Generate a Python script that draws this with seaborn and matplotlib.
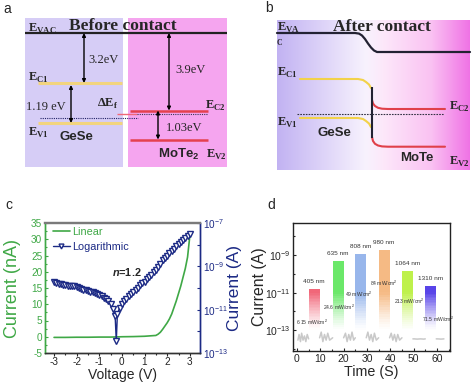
import numpy as np
import pandas as pd
import matplotlib
matplotlib.use("Agg")
import matplotlib.pyplot as plt
import seaborn as sns
from matplotlib.colors import LinearSegmentedColormap
from matplotlib.patches import Rectangle
from matplotlib.lines import Line2D
from matplotlib.ticker import FixedLocator, MultipleLocator, NullFormatter, LogFormatterSciNotation

# ---------------- data ----------------
# panel a: schematic level heights (pixel-like diagram units, top = 0)
levels_a_gese = [83, 123]          # E_C1, E_V1
fermi_a_gese = 117.5
levels_a_mote = [110.5, 139.5]     # E_C2, E_V2
fermi_a_mote = 114
vac_a = 33
gaps_a = ["3.2eV", "1.19 eV", "3.9eV", "1.03eV"]

# panel b: band-bending curves (diagram units)
vac_b_x = [277, 355, 359, 362, 365, 368, 371, 374, 377, 470]
vac_b_y = [33, 33, 33.6, 35.5, 39, 43.5, 47.5, 50.5, 52, 52]
ec1_b_x = [300, 358, 363, 366, 369, 371]
ec1_b_y = [79, 79, 80, 82, 84.5, 88]
ev1_b_x = [300, 358, 363, 366, 369, 371]
ev1_b_y = [118, 118, 119, 121, 123.5, 127]
ec2_b_x = [372, 373, 375, 378, 382, 388, 445]
ec2_b_y = [100, 103.5, 106, 107.8, 108.7, 109, 109]
ev2_b_x = [372, 373, 375, 378, 382, 388, 445]
ev2_b_y = [137, 141, 143.8, 145.5, 146.4, 146.7, 146.7]

# panel c: I-V
V_lin = [-3.0, -2.5, -2.0, -1.5, -1.0, -0.5, 0.0, 0.5, 1.0, 1.5, 1.6, 1.7, 1.8, 1.9,
         2.0, 2.1, 2.2, 2.3, 2.4, 2.5, 2.6, 2.7, 2.8, 2.9, 3.0]
I_lin = [-0.2, -0.2, -0.15, -0.15, -0.1, -0.1, 0.0, 0.05, 0.15, 0.4, 0.8, 1.4, 2.3, 3.3,
         4.3, 5.5, 7.0, 9.0, 11.0, 13.3, 15.6, 18.3, 21.0, 24.5, 31.0]
V_log = [-3.0, -2.9, -2.8, -2.7, -2.6, -2.5, -2.4, -2.3, -2.2, -2.1, -2.0, -1.9, -1.8,
         -1.7, -1.6, -1.5, -1.4, -1.3, -1.2, -1.1, -1.0, -0.9, -0.8, -0.7, -0.6, -0.5,
         -0.4, -0.3, -0.25, -0.2, -0.1, 0.0, 0.1, 0.2, 0.3, 0.4, 0.5, 0.6, 0.7, 0.8,
         0.9, 1.0, 1.1, 1.2, 1.3, 1.4, 1.5, 1.6, 1.7, 1.8, 1.9, 2.0, 2.1, 2.2, 2.3,
         2.4, 2.5, 2.6, 2.7, 2.8, 2.9, 3.0]
logI = [-9.72, -9.76, -9.80, -9.83, -9.86, -9.88, -9.90, -9.93, -9.90, -9.93, -9.97,
        -10.00, -10.03, -10.07, -10.10, -10.14, -10.17, -10.20, -10.24, -10.28, -10.33,
        -10.38, -10.44, -10.52, -10.62, -10.75, -10.95, -11.30, -12.45, -11.20, -10.90,
        -10.75, -10.62, -10.50, -10.38, -10.27, -10.17, -10.08, -9.98, -9.88, -9.79,
        -9.70, -9.60, -9.50, -9.38, -9.28, -9.17, -9.03, -8.87, -8.73, -8.60, -8.50,
        -8.40, -8.28, -8.18, -8.08, -7.98, -7.88, -7.78, -7.68, -7.58, -7.52]

# panel d: photoresponse
wavelengths = ["405 nm", "635 nm", "808 nm", "980 nm", "1064 nm", "1310 nm"]
powers = ["6.15 mW/cm$^{2}$", "24.6 mW/cm$^{2}$", "49 mW/cm$^{2}$", "84 mW/cm$^{2}$",
          "213 mW/cm$^{2}$", "71.5 mW/cm$^{2}$"]
on_start = [5.0, 15.3, 25.0, 35.0, 45.0, 55.0]
on_end = [9.7, 20.0, 29.7, 39.7, 49.7, 59.7]
peak_I = [1.6e-11, 4.8e-10, 1.2e-9, 1.8e-9, 1.5e-10, 2.3e-11]
power_t = [6.4, 17.8, 26.4, 37.4, 48.1, 60.3]
power_I = [2.8e-13, 1.8e-12, 8.1e-12, 3.2e-11, 3.5e-12, 4.0e-13]
dark_seg = [0, 0, 0, 0, 0, 0, 0, 0, 0,
            1, 1, 1, 1, 1, 1, 1, 1,
            2, 2, 2, 2, 2, 2, 2, 2,
            3, 3, 3, 3, 3, 3, 3, 3,
            4, 4, 4, 4, 4, 4, 4, 4,
            5, 5, 5, 5, 5, 5,
            6, 6, 6, 6]
dark_t = [0.4, 0.9, 1.5, 2.0, 2.6, 3.2, 3.8, 4.4, 5.0,
          9.7, 10.4, 11.1, 11.8, 12.5, 13.2, 14.0, 15.3,
          20.0, 20.8, 21.5, 22.2, 22.9, 23.6, 24.3, 25.0,
          29.7, 30.4, 31.1, 31.8, 32.5, 33.2, 34.0, 35.0,
          39.7, 40.4, 41.1, 41.8, 42.5, 43.2, 44.0, 45.0,
          49.7, 50.3, 51.5, 53.0, 54.3, 55.0,
          59.7, 60.3, 61.8, 63.0]
dark_I = [3e-14, 6e-14, 2.5e-14, 7e-14, 3e-14, 5e-14, 2.5e-14, 6e-14, 3.5e-14,
          4e-14, 8e-14, 2.5e-14, 6e-14, 3e-14, 7e-14, 3e-14, 4e-14,
          4e-14, 7e-14, 2.5e-14, 6e-14, 3e-14, 8e-14, 3e-14, 4e-14,
          4e-14, 8e-14, 3e-14, 6e-14, 2.5e-14, 7e-14, 3e-14, 4e-14,
          4e-14, 7e-14, 3e-14, 6e-14, 2.5e-14, 6e-14, 3e-14, 4e-14,
          3.5e-14, 3.5e-14, 3.4e-14, 3.5e-14, 3.4e-14, 3.5e-14,
          3.5e-14, 3.5e-14, 3.4e-14, 3.5e-14]

# ---------------- style ----------------
W, H = 474, 383
sns.set_style("ticks")
plt.rcParams["font.family"] = ["Liberation Sans", "DejaVu Sans"]
plt.rcParams["mathtext.fontset"] = "custom"
plt.rcParams["mathtext.rm"] = "Liberation Serif:bold"
plt.rcParams["mathtext.sf"] = "Liberation Sans:bold"
plt.rcParams["mathtext.it"] = "Liberation Sans:italic:bold"

GREEN = "#3fa846"
NAVY = "#1c2a85"
SERIF = "Liberation Serif"

fig = plt.figure(figsize=(W / 100, H / 100), dpi=100)


def add_ax(x0, y0, x1, y1):
    return fig.add_axes([x0 / W, 1 - y1 / H, (x1 - x0) / W, (y1 - y0) / H])


def elabel(ax, x, y, sub, size=9):
    ax.text(x, y, "E$_{\\mathrm{" + sub + "}}$", family=SERIF, weight="bold",
            fontsize=size, ha="left", va="center")


# ---------------- panel a ----------------
axa = add_ax(0, 0, 237, 180)
axa.set_xlim(0, 237)
axa.set_ylim(180, 0)
axa.axis("off")
axa.add_patch(Rectangle((25, 18), 98, 149, color="#d6cdf6", lw=0))
axa.add_patch(Rectangle((128, 18), 99, 149, color="#f5a5ef", lw=0))
axa.hlines(vac_a, 25, 227, color="#222222", lw=1.6)
axa.hlines(levels_a_gese, 38, 122, color="#f2d47e", lw=2.2)
axa.hlines(fermi_a_gese, 40, 138, color="#222266", lw=0.8, ls=(0, (1, 1)))
axa.hlines(levels_a_mote, 130, 208, color="#e5404f", lw=1.8)
axa.hlines(fermi_a_mote, 117, 137, color="#f06878", lw=1.0)
axa.hlines(fermi_a_mote, 137, 208, color="#333355", lw=0.8, ls=(0, (1, 1)))
arrow = dict(arrowstyle="<|-|>", lw=1.0, color="black", mutation_scale=5,
             shrinkA=0, shrinkB=0)
axa.annotate("", xy=(84, vac_a), xytext=(84, levels_a_gese[0]), arrowprops=arrow)
axa.annotate("", xy=(71, levels_a_gese[0] + 2), xytext=(71, levels_a_gese[1]), arrowprops=arrow)
axa.annotate("", xy=(169, vac_a), xytext=(169, levels_a_mote[0]), arrowprops=arrow)
axa.annotate("", xy=(158, levels_a_mote[0]), xytext=(158, levels_a_mote[1]), arrowprops=arrow)
axa.text(3, 9, "a", fontsize=10, ha="left", va="center")
elabel(axa, 28, 29, "VAC")
axa.text(123, 26, "Before contact", family=SERIF, weight="bold", fontsize=12.5,
         ha="center", va="center")
axa.text(88, 60, gaps_a[0], family=SERIF, fontsize=9, ha="left", va="center")
elabel(axa, 28, 78, "C1")
axa.text(26, 107, gaps_a[1], family=SERIF, fontsize=9, ha="left", va="center")
axa.text(97, 104, "ΔE$_{\\mathrm{f}}$", family=SERIF, weight="bold", fontsize=9,
         ha="left", va="center")
elabel(axa, 28, 133, "V1")
axa.text(60, 137, "GeSe", weight="bold", fontsize=9.5, ha="left", va="center")
axa.text(175, 70, gaps_a[2], family=SERIF, fontsize=9, ha="left", va="center")
elabel(axa, 205, 106, "C2")
axa.text(166, 128, gaps_a[3], family=SERIF, fontsize=9, ha="left", va="center")
axa.text(158, 154, "MoTe$_{\\mathsf{2}}$", weight="bold", fontsize=9.5, ha="left", va="center")
elabel(axa, 206, 155, "V2")

# ---------------- panel b ----------------
axb = add_ax(237, 0, 474, 180)
axb.axis("off")
grad = LinearSegmentedColormap.from_list(
    "bg", [(0.0, (0.76, 0.70, 0.95)), (0.46, (0.97, 0.95, 0.995)),
           (0.55, (0.99, 0.91, 0.98)), (0.8, (0.98, 0.76, 0.95)),
           (1.0, (0.94, 0.45, 0.90))])
axb.imshow(np.linspace(0, 1, 256)[None, :], cmap=grad, aspect="auto",
           extent=(277, 470, 170, 20), zorder=0)
axb.set_xlim(237, 474)
axb.set_ylim(180, 0)
axb.plot(vac_b_x, vac_b_y, color="#222233", lw=1.6)
axb.plot(ec1_b_x, ec1_b_y, color="#f2d24a", lw=1.5)
axb.plot(ev1_b_x, ev1_b_y, color="#f2d24a", lw=1.5)
axb.plot(ec2_b_x, ec2_b_y, color="#e0404a", lw=1.5)
axb.plot(ev2_b_x, ev2_b_y, color="#e0404a", lw=1.5)
axb.vlines(371.5, 87, 138, color="#222233", lw=1.5)
axb.hlines(114, 297, 444, color="#333344", lw=0.8, ls=(0, (1.5, 1)))
axb.text(265, 8, "b", fontsize=10, ha="left", va="center")
elabel(axb, 277, 28, "VA")
axb.text(277, 43, "C", family=SERIF, weight="bold", fontsize=5.5, ha="left", va="center")
axb.text(382, 27, "After contact", family=SERIF, weight="bold", fontsize=12.5,
         ha="center", va="center")
elabel(axb, 277, 73, "C1")
elabel(axb, 277, 123, "V1")
axb.text(317, 133, "GeSe", weight="bold", fontsize=9.5, ha="left", va="center")
axb.text(400, 158, "MoTe", weight="bold", fontsize=9.5, ha="left", va="center")
elabel(axb, 449, 107, "C2")
elabel(axb, 449, 162, "V2")

# ---------------- panel c ----------------
CX0, CY0, CX1, CY1 = 45, 223, 200, 353
axc = add_ax(CX0, CY0, CX1, CY1)
sns.lineplot(x=V_lin, y=I_lin, ax=axc, color=GREEN, lw=1.2)
axc.set_xlim(-3.4, 3.45)
axc.set_ylim(-5, 35)
axc.xaxis.set_minor_locator(MultipleLocator(0.5))
axc.yaxis.set_minor_locator(MultipleLocator(2.5))
axc.set_xticks([-3, -2, -1, 0, 1, 2, 3])
axc.set_xticklabels(["-3", "-2", "-1", "0", "1", "2", "3"])
axc.set_yticks([-5, 0, 5, 10, 15, 20, 25, 30, 35])
axc.set_yticklabels(["-5", "0", "5", "10", "15", "20", "25", "30", "35"])
axc.tick_params(axis="x", which="both", direction="out", labelsize=7.2, pad=0.8,
                length=2.0, width=0.8, colors="#222222")
axc.tick_params(axis="x", which="minor", length=1.3)
axc.tick_params(axis="y", which="both", direction="in", labelsize=7.2, pad=2,
                length=2.5, width=0.8, colors=GREEN)
axc.tick_params(axis="y", which="minor", length=1.5)
axc.set_xlabel("Voltage (V)", fontsize=10, va="top")
axc.xaxis.set_label_coords(0.5, (CY1 - 368) / (CY1 - CY0))
axc.set_ylabel("Current (nA)", fontsize=13, color=GREEN)
axc.yaxis.set_label_coords((21 - CX0) / (CX1 - CX0), 0.5)
axc2 = axc.twinx()
sns.lineplot(x=V_log, y=[10 ** v for v in logI], ax=axc2, color=NAVY, lw=1.0,
             marker="v", markerfacecolor="white", markeredgecolor=NAVY,
             markersize=4.2, markeredgewidth=1.0)
axc2.set_yscale("log")
axc2.set_ylim(1e-13, 1e-7)
axc2.yaxis.set_major_locator(FixedLocator([1e-13, 1e-11, 1e-9, 1e-7]))
axc2.yaxis.set_major_formatter(LogFormatterSciNotation())
axc2.yaxis.set_minor_locator(FixedLocator([1e-12, 1e-10, 1e-8]))
axc2.yaxis.set_minor_formatter(NullFormatter())
axc2.tick_params(axis="y", which="both", direction="in", labelsize=7.2, pad=2,
                 length=2.5, width=0.8, colors=NAVY)
axc2.set_ylabel("Current (A)", fontsize=12.5, color=NAVY)
axc2.yaxis.set_label_coords((227 - CX0) / (CX1 - CX0), 0.5)
axc2.set_xlim(-3.4, 3.45)
for a in (axc, axc2):
    a.spines["left"].set_color(GREEN)
    a.spines["right"].set_color(NAVY)
    a.spines["top"].set_color("#7a7a7a")
    a.spines["bottom"].set_color("#333333")
    a.spines["top"].set_linewidth(1.6)
    for s in ("left", "right", "bottom"):
        a.spines[s].set_linewidth(1.0)
    a.spines["top"].set_visible(True)
    a.spines["right"].set_visible(True)
handles = [Line2D([], [], color=GREEN, lw=1.2),
           Line2D([], [], color=NAVY, lw=1.0, marker="v", markerfacecolor="white",
                  markeredgecolor=NAVY, markersize=3.5)]
leg = axc2.legend(handles, ["Linear", "Logarithmic"], loc="upper left",
                  bbox_to_anchor=(0.0, 1.03), frameon=False, fontsize=7.8,
                  handlelength=1.6, handletextpad=0.2, labelspacing=0.45,
                  borderaxespad=0.3)
for txt, c in zip(leg.get_texts(), [GREEN, NAVY]):
    txt.set_color(c)
axc2.text(0.2, 5.5e-10, "$n$=1.2", fontsize=7.8, weight="bold", ha="center", va="center")
fig.text(5 / W, 1 - 205 / H, "c", fontsize=10, ha="left", va="center")

# ---------------- panel d ----------------
DX0, DY0, DX1, DY1 = 293, 223, 450, 351
axd = add_ax(DX0, DY0, DX1, DY1)
dfd = pd.DataFrame({"t": dark_t, "I": dark_I, "seg": dark_seg})
sns.lineplot(data=dfd, x="t", y="I", units="seg", estimator=None, ax=axd,
             color="#c9c9c9", lw=1.1)
axd.set_yscale("log")
lo_fade = -13.0
for t0, t1, top, col in zip(on_start, on_end, peak_I,
                            ["#f05a6e", "#5ee65c", "#8fb0ea", "#f5b47a", "#b9f03c", "#4a34e6"]):
    edges = np.linspace(-14.0, np.log10(top), 41)
    for k in range(40):
        mid = 0.5 * (edges[k] + edges[k + 1])
        al = np.clip((mid - lo_fade) / 2.0, 0, 1) ** 1.3 * 0.92
        axd.bar(t0, 10 ** edges[k + 1] - 10 ** edges[k], bottom=10 ** edges[k],
                width=t1 - t0, align="edge", color=col, alpha=al, lw=0, zorder=3)
for t0, t1, top, lab in zip(on_start, on_end, peak_I, wavelengths):
    axd.annotate(lab, xy=((t0 + t1) / 2, top), xytext=(0, 3.5), textcoords="offset points",
                 ha="center", va="bottom", fontsize=4.6, color="#333333", zorder=5)
for pt, pi, lab in zip(power_t, power_I, powers):
    axd.text(pt, pi, lab, fontsize=3.6, ha="center", va="center", color="#333333", zorder=5)
axd.set_xlim(-1.7, 65.6)
axd.set_ylim(10 ** -14.1, 10 ** -7.3)
axd.yaxis.set_major_locator(FixedLocator([1e-13, 1e-11, 1e-9]))
axd.yaxis.set_major_formatter(LogFormatterSciNotation())
axd.yaxis.set_minor_locator(FixedLocator([1e-14, 1e-12, 1e-10, 1e-8]))
axd.yaxis.set_minor_formatter(NullFormatter())
axd.xaxis.set_major_locator(MultipleLocator(10))
axd.xaxis.set_minor_locator(MultipleLocator(5))
axd.tick_params(axis="both", which="both", direction="in", labelsize=7.5, pad=2,
                length=2.5, width=0.8)
axd.tick_params(which="minor", length=1.5)
axd.set_xlabel("Time (S)", fontsize=10.3, va="top")
axd.xaxis.set_label_coords(0.5, (DY1 - 365) / (DY1 - DY0))
axd.set_ylabel("Current (A)", fontsize=11.4)
axd.yaxis.set_label_coords((267 - DX0) / (DX1 - DX0), 0.5)
for s in axd.spines.values():
    s.set_visible(True)
    s.set_linewidth(1.0)
    s.set_color("#222222")
fig.text(267 / W, 1 - 205 / H, "d", fontsize=10, ha="left", va="center")

fig.savefig("out.png", dpi=100)
